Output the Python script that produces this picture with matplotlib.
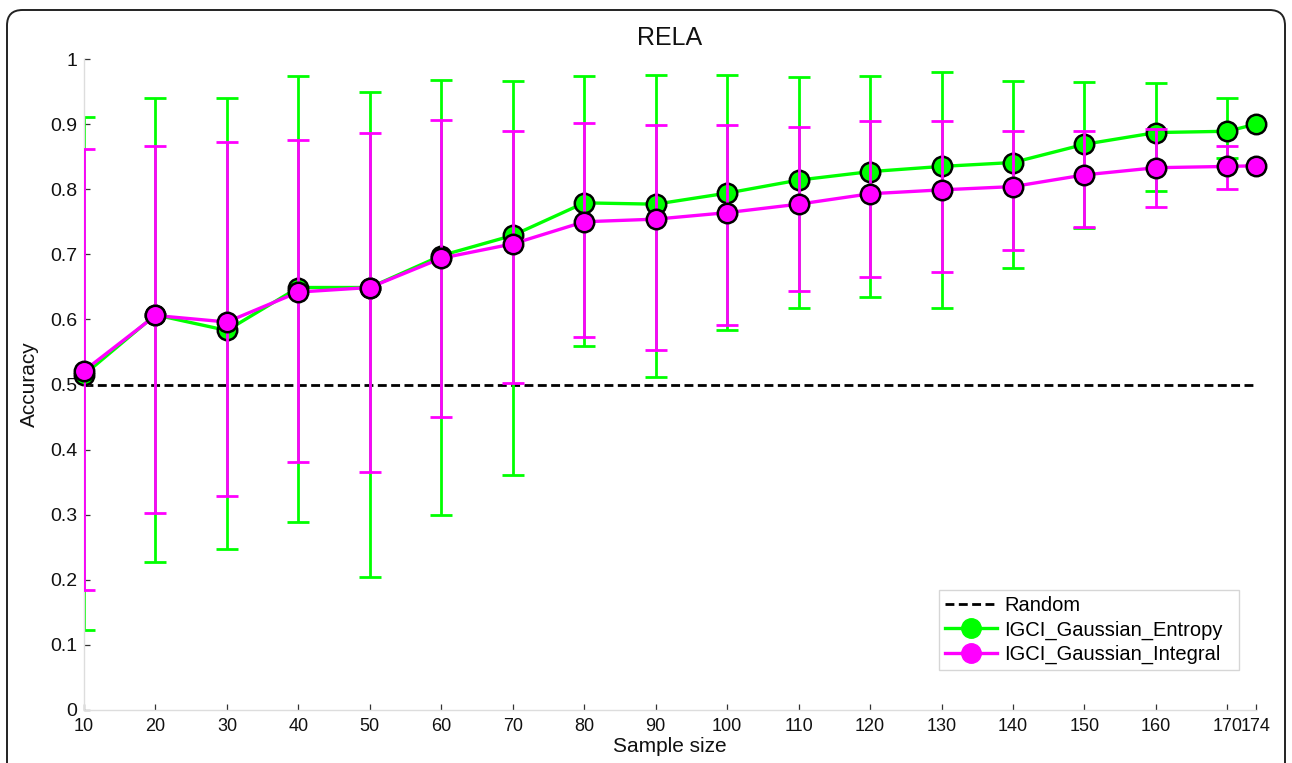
import matplotlib
matplotlib.use("Agg")
import matplotlib.pyplot as plt
from matplotlib.patches import FancyBboxPatch
from matplotlib.lines import Line2D

plt.rcParams['font.family'] = ['Liberation Sans', 'DejaVu Sans']

sample_sizes = [10, 20, 30, 40, 50, 60, 70, 80, 90, 100, 110, 120, 130, 140, 150, 160, 170, 174]
xtick_labels = ["10", "20", "30", "40", "50", "60", "70", "80", "90", "100", "110", "120",
                "130", "140", "150", "160", "170", "174"]

entropy_mean = [0.515, 0.607, 0.583, 0.649, 0.649, 0.698, 0.729, 0.779, 0.777, 0.794, 0.814,
                0.827, 0.835, 0.841, 0.869, 0.887, 0.889, 0.900]
entropy_upper = [0.911, 0.940, 0.940, 0.974, 0.950, 0.967, 0.966, 0.974, 0.976, 0.976, 0.973,
                 0.974, 0.980, 0.966, 0.964, 0.963, 0.940, None]
entropy_lower = [0.123, 0.228, 0.247, 0.289, 0.204, 0.300, 0.361, 0.559, 0.512, 0.584, 0.617,
                 0.634, 0.618, 0.679, 0.740, 0.798, 0.848, None]

integral_mean = [0.521, 0.606, 0.596, 0.642, 0.649, 0.694, 0.716, 0.750, 0.754, 0.764, 0.777,
                 0.793, 0.799, 0.804, 0.822, 0.833, 0.835, 0.836]
integral_upper = [0.862, 0.867, 0.873, 0.875, 0.887, 0.907, 0.890, 0.901, 0.899, 0.899, 0.895,
                  0.905, 0.905, 0.889, 0.889, 0.893, 0.866, None]
integral_lower = [0.184, 0.302, 0.328, 0.381, 0.365, 0.450, 0.502, 0.573, 0.553, 0.592, 0.643,
                  0.665, 0.673, 0.706, 0.742, 0.773, 0.801, None]

random_level = 0.5

GREEN = '#00ff00'
MAGENTA = '#ff00ff'

fig = plt.figure(figsize=(12.92, 7.63), dpi=100)
ax = fig.add_axes([84/1292, 1-710/763, (1256-84)/1292, (710-59)/763])

# rounded figure frame
frame = FancyBboxPatch((7/1292, -0.05), (1285-7)/1292, (753/763)+0.05,
                       boxstyle="round,pad=0,rounding_size=0.012",
                       transform=fig.transFigure, fill=False, edgecolor='#222222',
                       linewidth=1.4, clip_on=False, mutation_aspect=1292/763)
fig.patches.append(frame)

ax.axhline(random_level, color='black', linestyle=(0, (3.2, 1.6)), linewidth=2.0, zorder=1)


def draw(mean, upper, lower, color, z):
    xs, ys, lo, hi = [], [], [], []
    for x, m, u, l in zip(sample_sizes, mean, upper, lower):
        if u is None:
            continue
        xs.append(x); ys.append(m); hi.append(u - m); lo.append(m - l)
    ax.errorbar(xs, ys, yerr=[lo, hi], fmt='none', ecolor=color, elinewidth=2.0,
                capsize=8, capthick=2.0, zorder=z)
    ax.plot(sample_sizes, mean, color=color, linewidth=2.4, marker='o', markersize=14,
            markerfacecolor=color, markeredgecolor='black', markeredgewidth=1.8,
            zorder=z + 0.5, clip_on=False)


draw(entropy_mean, entropy_upper, entropy_lower, GREEN, 2)
draw(integral_mean, integral_upper, integral_lower, MAGENTA, 4)

ax.set_xlim(10, 174)
ax.set_ylim(0, 1)
ax.set_xticks(sample_sizes)
ax.set_xticklabels(xtick_labels)
yt = [i / 10 for i in range(11)]
ax.set_yticks(yt)
ax.set_yticklabels(["0", "0.1", "0.2", "0.3", "0.4", "0.5", "0.6", "0.7", "0.8", "0.9", "1"])
ax.tick_params(axis='both', direction='in', length=4, width=0.9, color='#333333',
               labelcolor='#111111')
ax.tick_params(axis='y', pad=5, labelsize=14)
ax.tick_params(axis='x', pad=6, labelsize=13)

for s in ['top', 'right']:
    ax.spines[s].set_visible(False)
for s in ['left', 'bottom']:
    ax.spines[s].set_color('#dddddd')
    ax.spines[s].set_linewidth(1.0)

ax.set_title("RELA", fontsize=18, pad=10, color='#111111')
ax.set_xlabel("Sample size", fontsize=15, labelpad=1, color='#111111')
ax.set_ylabel("Accuracy", fontsize=15, labelpad=8, color='#111111')

handles = [
    Line2D([], [], color='black', linestyle=(0, (3.2, 1.6)), linewidth=2.0),
    Line2D([], [], color=GREEN, linewidth=2.4, marker='o', markersize=14,
           markerfacecolor=GREEN, markeredgecolor=GREEN),
    Line2D([], [], color=MAGENTA, linewidth=2.4, marker='o', markersize=14,
           markerfacecolor=MAGENTA, markeredgecolor=MAGENTA),
]
leg = ax.legend(handles, ["Random", "IGCI_Gaussian_Entropy", "IGCI_Gaussian_Integral"],
                loc='upper left', bbox_to_anchor=(0.7295, 0.046, 0.256, 0.138),
                mode='expand', fontsize=14.5, frameon=True, fancybox=False,
                handlelength=2.6, handletextpad=0.35, borderpad=0.3, labelspacing=0.25,
                borderaxespad=0)
leg.get_frame().set_edgecolor('#cccccc')
leg.get_frame().set_linewidth(1.0)

fig.savefig("out.png", dpi=100)
